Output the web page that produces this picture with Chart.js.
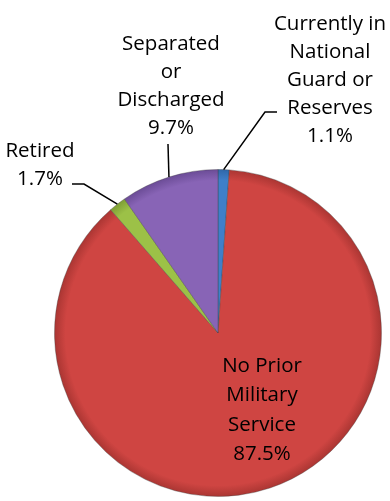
<!DOCTYPE html>
<html>
<head>
<meta charset="utf-8">
<script src="https://cdn.jsdelivr.net/npm/chart.js@4"></script>
<style>
  html, body { margin: 0; padding: 0; background: #fff; }
  #wrap { width: 390px; height: 501px; }
</style>
</head>
<body>
<div id="wrap"><canvas id="chart" width="390" height="501"></canvas></div>
<script>
// slices, clockwise from 12 o'clock
const categories = [
    ["Currently in", "National", "Guard or", "Reserves"],
    ["No Prior", "Military", "Service"],
    ["Retired"],
    ["Separated", "or", "Discharged"]
];
const percents = [1.1, 87.5, 1.7, 9.7];
const sliceColors = ["#3f7fc9", "#cf4542", "#9cc147", "#8864b6"];
const rimColors = ["#2f66a8", "#a93532", "#7d9d35", "#6a4b95"];

// where each label block sits (center x, first line y) and leader elbow
const labelSpots = [
    { x: 330, y: 24, elbow: [265, 112], end: [277, 112] },
    { x: 262, y: 366, elbow: null, end: null },
    { x: 40, y: 151, elbow: [84, 184], end: [72, 184] },
    { x: 171, y: 44, elbow: [168, 144], end: [168, 144] }
];

function sliceFill(context) {
    const chart = context.chart;
    const area = chart.chartArea;
    if (!area) return sliceColors[context.dataIndex];
    const cx = (area.left + area.right) / 2;
    const cy = (area.top + area.bottom) / 2;
    const r = Math.min(area.right - area.left, area.bottom - area.top) / 2;
    const g = chart.ctx.createRadialGradient(cx, cy, 0, cx, cy, r);
    g.addColorStop(0, sliceColors[context.dataIndex]);
    g.addColorStop(0.93, sliceColors[context.dataIndex]);
    g.addColorStop(1, rimColors[context.dataIndex]);
    return g;
}

const sliceLabels = {
    id: "sliceLabels",
    afterDatasetsDraw(chart) {
        const c = chart.ctx;
        const meta = chart.getDatasetMeta(0);
        c.save();
        c.fillStyle = "#000";
        c.font = "20.5px 'Open Sans'";
        c.textAlign = "center";
        c.textBaseline = "middle";
        meta.data.forEach((arc, i) => {
            const spot = labelSpots[i];
            const lines = categories[i].concat([percents[i].toFixed(1) + "%"]);
            const lh = i === 1 ? 29.5 : 28;
            lines.forEach((t, k) => c.fillText(t, spot.x, spot.y + k * lh));
            if (spot.elbow) {
                const mid = (arc.startAngle + arc.endAngle) / 2;
                const px = arc.x + Math.cos(mid) * arc.outerRadius;
                const py = arc.y + Math.sin(mid) * arc.outerRadius;
                c.beginPath();
                c.strokeStyle = "#000";
                c.lineWidth = 1.5;
                c.moveTo(px, py);
                c.lineTo(spot.elbow[0], spot.elbow[1]);
                c.lineTo(spot.end[0], spot.end[1]);
                c.stroke();
            }
        });
        c.restore();
    }
};

new Chart(document.getElementById("chart"), {
    type: "pie",
    data: {
        labels: categories.map(l => l.join(" ")),
        datasets: [{
            data: percents,
            backgroundColor: sliceFill,
            borderColor: "rgba(60,60,60,0.35)",
            borderWidth: 1
        }]
    },
    options: {
        responsive: false,
        animation: false,
        rotation: 0,
        layout: {
            padding: { left: 54, right: 8, top: 169, bottom: 4 }
        },
        plugins: {
            legend: { display: false },
            tooltip: { enabled: false }
        }
    },
    plugins: [sliceLabels]
});
</script>
</body>
</html>
